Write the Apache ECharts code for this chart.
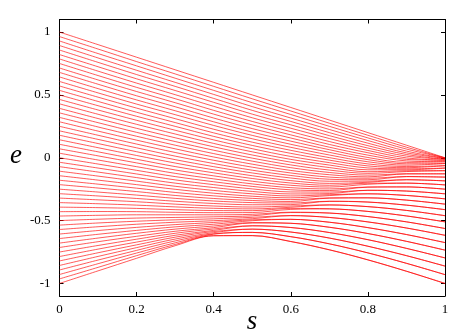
<!DOCTYPE html>
<html><head><meta charset="utf-8">
<script src="https://cdn.jsdelivr.net/npm/echarts@6/dist/echarts.min.js"></script>
<style>html,body{margin:0;padding:0;background:#fff}#c{width:452px;height:334px}</style>
</head><body><div id="c"></div>
<script>
// s positions of the sampled columns
const sValues = [0, 0.1, 0.2, 0.3, 0.4, 0.5, 0.6, 0.7, 0.8, 0.9, 1.0];
// e of each of the 57 curves (top to bottom) read at each s column
const e_s00 = [1.000,0.964,0.929,0.893,0.857,0.821,0.786,0.750,0.714,0.679,0.643,0.607,0.571,0.536,0.500,0.464,0.429,0.393,0.357,0.321,0.286,0.250,0.214,0.179,0.143,0.107,0.071,0.036,0.000,-0.036,-0.071,-0.107,-0.143,-0.179,-0.214,-0.250,-0.286,-0.321,-0.357,-0.393,-0.429,-0.464,-0.500,-0.536,-0.571,-0.607,-0.643,-0.679,-0.714,-0.750,-0.786,-0.821,-0.857,-0.893,-0.929,-0.964,-1.000];
const e_s01 = [0.900,0.865,0.829,0.794,0.759,0.724,0.689,0.654,0.619,0.585,0.550,0.516,0.482,0.448,0.414,0.380,0.346,0.312,0.279,0.245,0.212,0.179,0.146,0.113,0.080,0.047,0.015,-0.018,-0.050,-0.082,-0.114,-0.146,-0.178,-0.210,-0.241,-0.273,-0.304,-0.335,-0.366,-0.397,-0.428,-0.458,-0.489,-0.519,-0.549,-0.579,-0.609,-0.639,-0.668,-0.698,-0.727,-0.756,-0.785,-0.814,-0.843,-0.872,-0.900];
const e_s02 = [0.800,0.765,0.731,0.696,0.662,0.628,0.594,0.560,0.527,0.493,0.460,0.427,0.395,0.362,0.330,0.298,0.266,0.234,0.202,0.171,0.140,0.109,0.079,0.048,0.018,-0.012,-0.041,-0.071,-0.100,-0.129,-0.158,-0.186,-0.214,-0.242,-0.269,-0.297,-0.324,-0.350,-0.377,-0.403,-0.429,-0.454,-0.480,-0.505,-0.529,-0.554,-0.578,-0.601,-0.625,-0.648,-0.671,-0.693,-0.715,-0.737,-0.758,-0.779,-0.800];
const e_s03 = [0.700,0.667,0.633,0.600,0.568,0.535,0.502,0.470,0.438,0.406,0.374,0.343,0.311,0.280,0.250,0.219,0.189,0.159,0.129,0.100,0.071,0.042,0.013,-0.015,-0.042,-0.070,-0.097,-0.124,-0.150,-0.176,-0.202,-0.227,-0.251,-0.276,-0.300,-0.323,-0.346,-0.369,-0.391,-0.413,-0.434,-0.454,-0.475,-0.494,-0.513,-0.532,-0.550,-0.568,-0.585,-0.601,-0.617,-0.632,-0.647,-0.662,-0.677,-0.690,-0.700];
const e_s04 = [0.600,0.568,0.536,0.504,0.472,0.441,0.409,0.377,0.347,0.316,0.286,0.257,0.227,0.198,0.170,0.142,0.114,0.087,0.060,0.033,0.006,-0.020,-0.046,-0.071,-0.096,-0.120,-0.144,-0.168,-0.191,-0.214,-0.237,-0.260,-0.282,-0.303,-0.324,-0.344,-0.364,-0.384,-0.402,-0.420,-0.437,-0.454,-0.470,-0.486,-0.501,-0.515,-0.529,-0.543,-0.556,-0.567,-0.578,-0.587,-0.596,-0.605,-0.608,-0.620,-0.621];
const e_s05 = [0.500,0.469,0.438,0.407,0.377,0.347,0.318,0.289,0.261,0.232,0.204,0.178,0.151,0.124,0.098,0.072,0.047,0.022,-0.003,-0.027,-0.051,-0.075,-0.099,-0.121,-0.143,-0.165,-0.187,-0.208,-0.228,-0.248,-0.268,-0.287,-0.306,-0.323,-0.340,-0.357,-0.374,-0.392,-0.407,-0.421,-0.436,-0.450,-0.462,-0.474,-0.485,-0.494,-0.501,-0.516,-0.519,-0.541,-0.542,-0.568,-0.568,-0.594,-0.594,-0.619,-0.620];
const e_s06 = [0.400,0.372,0.344,0.316,0.289,0.262,0.235,0.208,0.182,0.157,0.132,0.107,0.083,0.059,0.035,0.010,-0.013,-0.035,-0.057,-0.079,-0.101,-0.121,-0.141,-0.161,-0.182,-0.201,-0.219,-0.238,-0.255,-0.272,-0.288,-0.304,-0.319,-0.333,-0.348,-0.360,-0.373,-0.384,-0.394,-0.403,-0.411,-0.433,-0.436,-0.460,-0.461,-0.490,-0.490,-0.521,-0.522,-0.555,-0.555,-0.591,-0.591,-0.628,-0.628,-0.666,-0.667];
const e_s07 = [0.300,0.275,0.250,0.225,0.200,0.176,0.153,0.129,0.106,0.084,0.064,0.043,0.022,0.001,-0.019,-0.039,-0.058,-0.078,-0.098,-0.117,-0.135,-0.154,-0.171,-0.187,-0.204,-0.219,-0.233,-0.248,-0.261,-0.273,-0.285,-0.294,-0.301,-0.320,-0.321,-0.346,-0.347,-0.375,-0.376,-0.406,-0.407,-0.440,-0.440,-0.475,-0.475,-0.513,-0.513,-0.553,-0.553,-0.595,-0.595,-0.639,-0.639,-0.685,-0.685,-0.732,-0.733];
const e_s08 = [0.200,0.179,0.158,0.137,0.116,0.096,0.077,0.058,0.040,0.021,0.002,-0.015,-0.032,-0.049,-0.065,-0.081,-0.096,-0.111,-0.124,-0.138,-0.152,-0.163,-0.175,-0.186,-0.195,-0.203,-0.211,-0.233,-0.234,-0.259,-0.259,-0.287,-0.287,-0.319,-0.319,-0.352,-0.353,-0.389,-0.389,-0.427,-0.427,-0.468,-0.468,-0.510,-0.511,-0.556,-0.556,-0.603,-0.603,-0.652,-0.652,-0.704,-0.704,-0.757,-0.757,-0.812,-0.813];
const e_s09 = [0.100,0.084,0.069,0.053,0.039,0.026,0.013,-0.001,-0.013,-0.025,-0.037,-0.048,-0.059,-0.070,-0.079,-0.088,-0.096,-0.104,-0.110,-0.128,-0.128,-0.150,-0.150,-0.175,-0.175,-0.202,-0.202,-0.232,-0.232,-0.265,-0.265,-0.300,-0.300,-0.337,-0.337,-0.377,-0.377,-0.419,-0.419,-0.463,-0.463,-0.510,-0.510,-0.559,-0.559,-0.611,-0.611,-0.665,-0.665,-0.721,-0.721,-0.779,-0.779,-0.840,-0.840,-0.903,-0.903];
const e_s10 = [0.000,-0.001,-0.001,-0.005,-0.005,-0.012,-0.012,-0.020,-0.020,-0.032,-0.032,-0.046,-0.046,-0.063,-0.063,-0.082,-0.082,-0.103,-0.103,-0.128,-0.128,-0.154,-0.154,-0.184,-0.184,-0.216,-0.216,-0.250,-0.250,-0.287,-0.287,-0.327,-0.327,-0.369,-0.369,-0.413,-0.413,-0.461,-0.461,-0.510,-0.510,-0.563,-0.563,-0.617,-0.617,-0.675,-0.675,-0.735,-0.735,-0.797,-0.797,-0.862,-0.862,-0.930,-0.930,-1.000,-1.000];
// tick labels
const xTicks = [0, 0.2, 0.4, 0.6, 0.8, 1];
const yTicks = [-1, -0.5, 0, 0.5, 1];
const xTitle = 's';
const yTitle = 'e';

const columns = [e_s00, e_s01, e_s02, e_s03, e_s04, e_s05, e_s06, e_s07, e_s08, e_s09, e_s10];
const series = [];
for (let k = 0; k < e_s00.length; k++) {
  series.push({
    type: 'line',
    data: sValues.map((s, j) => [s, columns[j][k]]),
    showSymbol: false,
    smooth: 0.35,
    silent: true,
    lineStyle: { color: '#ff0000', width: 0.65 },
    emphasis: { disabled: true }
  });
}
const serif = '"Liberation Serif", "DejaVu Serif", serif';
const axisLineStyle = { color: '#000', width: 1 };
const chart = echarts.init(document.getElementById('c'), null, { renderer: 'canvas' });
chart.setOption({
  animation: false,
  backgroundColor: '#fff',
  grid: { left: 59.5, right: 7, top: 19.5, bottom: 38, containLabel: false },
  xAxis: [
    { type: 'value', min: 0, max: 1, interval: 0.2, position: 'bottom',
      axisLine: { show: true, onZero: false, lineStyle: axisLineStyle },
      axisTick: { show: true, inside: true, length: 4, lineStyle: axisLineStyle, customValues: xTicks },
      axisLabel: { show: true, customValues: xTicks, margin: 7, color: '#000', fontFamily: serif, fontSize: 13 },
      splitLine: { show: false } },
    { type: 'value', min: 0, max: 1, interval: 0.2, position: 'top',
      axisLine: { show: true, onZero: false, lineStyle: axisLineStyle },
      axisTick: { show: true, inside: true, length: 4, lineStyle: axisLineStyle, customValues: xTicks },
      axisLabel: { show: false }, splitLine: { show: false } }
  ],
  yAxis: [
    { type: 'value', min: -1.1, max: 1.1, position: 'left',
      axisLine: { show: true, onZero: false, lineStyle: axisLineStyle },
      axisTick: { show: true, inside: true, length: 4, lineStyle: axisLineStyle, customValues: yTicks },
      axisLabel: { show: true, customValues: yTicks, margin: 9, color: '#000', fontFamily: serif, fontSize: 13 },
      splitLine: { show: false } },
    { type: 'value', min: -1.1, max: 1.1, position: 'right',
      axisLine: { show: true, onZero: false, lineStyle: axisLineStyle },
      axisTick: { show: true, inside: true, length: 4, lineStyle: axisLineStyle, customValues: yTicks },
      axisLabel: { show: false }, splitLine: { show: false } }
  ],
  graphic: [
    { type: 'text', x: 16, y: 156, style: { text: yTitle, font: 'italic 27px ' + serif, fill: '#000', textAlign: 'center', textVerticalAlign: 'middle' } },
    { type: 'text', x: 252, y: 322, style: { text: xTitle, font: 'italic 27px ' + serif, fill: '#000', textAlign: 'center', textVerticalAlign: 'middle' } }
  ],
  series: series
});
</script>
</body></html>
